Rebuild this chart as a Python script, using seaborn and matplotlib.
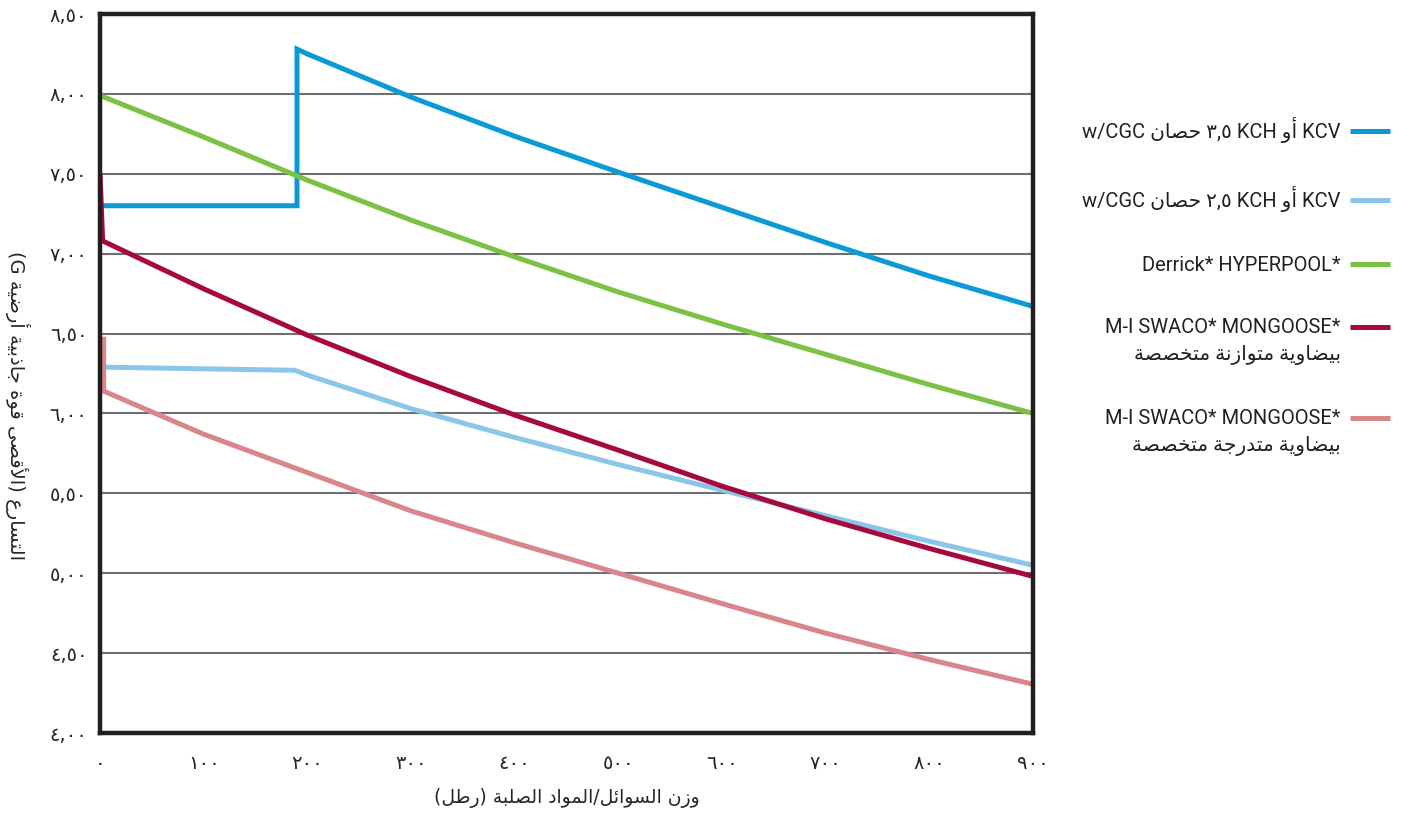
import re
import numpy as np
import pandas as pd
import matplotlib
matplotlib.use("Agg")
import matplotlib.pyplot as plt
import seaborn as sns

# ---------------- data ----------------
kcv35_x = [0, 190, 190, 200, 300, 400, 500, 600, 700, 800, 900]
kcv35_y = [7.30, 7.30, 8.28, 8.25, 7.98, 7.735, 7.51, 7.29, 7.07, 6.86, 6.67]

kcv25_x = [0, 188, 200, 300, 400, 500, 600, 700, 800, 900]
kcv25_y = [6.29, 6.27, 6.24, 6.03, 5.85, 5.68, 5.52, 5.36, 5.20, 5.05]

hyper_x = [0, 100, 200, 300, 400, 500, 600, 700, 800, 900]
hyper_y = [7.99, 7.73, 7.46, 7.21, 6.98, 6.76, 6.56, 6.37, 6.18, 6.00]

mong_bal_x = [0, 2.5, 100, 200, 300, 400, 500, 600, 700, 800, 900]
mong_bal_y = [7.50, 7.08, 6.78, 6.49, 6.23, 5.99, 5.77, 5.545, 5.34, 5.155, 4.98]

mong_prog_x = [3.5, 3.5, 100, 200, 300, 400, 500, 600, 700, 800, 900]
mong_prog_y = [6.48, 6.14, 5.87, 5.63, 5.39, 5.19, 5.00, 4.81, 4.625, 4.46, 4.305]

series_keys = ["kcv35", "kcv25", "hyper", "mong_bal", "mong_prog"]
# labels in logical (reading) order
series_labels = [
    "KCV أو KCH ٣,٥ حصان w/CGC",
    "KCV أو KCH ٢,٥ حصان w/CGC",
    "Derrick* HYPERPOOL*",
    "M-I SWACO* MONGOOSE*\nبيضاوية متوازنة متخصصة",
    "M-I SWACO* MONGOOSE*\nبيضاوية متدرجة متخصصة",
]
series_colors = ["#0b9ad6", "#8cc5ea", "#7bc143", "#a6093d", "#d8868a"]

x_ticks = [0, 100, 200, 300, 400, 500, 600, 700, 800, 900]
x_tick_labels = ["٠", "١٠٠", "٢٠٠", "٣٠٠", "٤٠٠", "٥٠٠", "٦٠٠", "٧٠٠", "٨٠٠", "٩٠٠"]
y_ticks = [4.0, 4.5, 5.0, 5.5, 6.0, 6.5, 7.0, 7.5, 8.0, 8.5]
y_tick_labels = ["٤,٠٠", "٤,٥٠", "٥,٠٠", "٥,٥٠", "٦,٠٠", "٦,٥٠", "٧,٠٠", "٧,٥٠", "٨,٠٠", "٨,٥٠"]

x_label = "وزن السوائل/المواد الصلبة (رطل)"
y_label = "التسارع (الأقصى قوة جاذبية أرضية G)"

# ------------- Arabic shaping + simple RTL ordering (matplotlib has no CTL) -------------
FORMS = {
    '\u0627': ('\uFE8D', '\uFE8E', None, None),
    '\u0623': ('\uFE83', '\uFE84', None, None),
    '\u0626': ('\uFE89', '\uFE8A', '\uFE8B', '\uFE8C'),
    '\u0628': ('\uFE8F', '\uFE90', '\uFE91', '\uFE92'),
    '\u0629': ('\uFE93', '\uFE94', None, None),
    '\u062A': ('\uFE95', '\uFE96', '\uFE97', '\uFE98'),
    '\u062C': ('\uFE9D', '\uFE9E', '\uFE9F', '\uFEA0'),
    '\u062D': ('\uFEA1', '\uFEA2', '\uFEA3', '\uFEA4'),
    '\u062E': ('\uFEA5', '\uFEA6', '\uFEA7', '\uFEA8'),
    '\u062F': ('\uFEA9', '\uFEAA', None, None),
    '\u0630': ('\uFEAB', '\uFEAC', None, None),
    '\u0631': ('\uFEAD', '\uFEAE', None, None),
    '\u0632': ('\uFEAF', '\uFEB0', None, None),
    '\u0633': ('\uFEB1', '\uFEB2', '\uFEB3', '\uFEB4'),
    '\u0635': ('\uFEB9', '\uFEBA', '\uFEBB', '\uFEBC'),
    '\u0636': ('\uFEBD', '\uFEBE', '\uFEBF', '\uFEC0'),
    '\u0637': ('\uFEC1', '\uFEC2', '\uFEC3', '\uFEC4'),
    '\u0639': ('\uFEC9', '\uFECA', '\uFECB', '\uFECC'),
    '\u0642': ('\uFED5', '\uFED6', '\uFED7', '\uFED8'),
    '\u0644': ('\uFEDD', '\uFEDE', '\uFEDF', '\uFEE0'),
    '\u0645': ('\uFEE1', '\uFEE2', '\uFEE3', '\uFEE4'),
    '\u0646': ('\uFEE5', '\uFEE6', '\uFEE7', '\uFEE8'),
    '\u0648': ('\uFEED', '\uFEEE', None, None),
    '\u0649': ('\uFEEF', '\uFEF0', None, None),
    '\u064A': ('\uFEF1', '\uFEF2', '\uFEF3', '\uFEF4'),
}
LAM_ALEF = {'\u0627': ('\uFEFB', '\uFEFC'), '\u0623': ('\uFEF7', '\uFEF8')}
AR = '[\u0621-\u064A]+'
MIRROR = {'(': ')', ')': '('}


def shape_word(w):
    out = []
    i, n = 0, len(w)
    prev_joins = False
    while i < n:
        c = w[i]
        f = FORMS.get(c)
        if f is None:
            out.append(c)
            prev_joins = False
            i += 1
            continue
        if c == '\u0644' and i + 1 < n and w[i + 1] in LAM_ALEF:
            iso, fin = LAM_ALEF[w[i + 1]]
            out.append(fin if prev_joins else iso)
            prev_joins = False
            i += 2
            continue
        next_joins = f[2] is not None and i + 1 < n and w[i + 1] in FORMS
        if prev_joins and next_joins:
            g = f[3]
        elif prev_joins:
            g = f[1]
        elif next_joins:
            g = f[2]
        else:
            g = f[0]
        out.append(g)
        prev_joins = f[2] is not None
        i += 1
    return ''.join(reversed(out))


def rtl_line(line):
    """Visual order of one line in a right-to-left paragraph (simplified bidi)."""
    if not re.search(AR, line):
        return line
    tokens = line.split(' ')[::-1]
    out = []
    for tok in tokens:
        if re.search(AR, tok) or '(' in tok or ')' in tok:
            pieces = re.findall(AR + '|[A-Za-z0-9]+|.', tok)[::-1]
            pieces = [MIRROR.get(p, p) for p in pieces]
            tok = ''.join(pieces)
        out.append(tok)
    vis = ' '.join(out)
    return re.sub(AR, lambda m: shape_word(m.group(0)), vis)


def rtl(text):
    return '\n'.join(rtl_line(l) for l in text.split('\n'))


# ---------------- figure ----------------
sns.set_theme(style="white")
plt.rcParams['font.family'] = ['DejaVu Sans']

frames = []
for key, xs, ys in zip(series_keys,
                       [kcv35_x, kcv25_x, hyper_x, mong_bal_x, mong_prog_x],
                       [kcv35_y, kcv25_y, hyper_y, mong_bal_y, mong_prog_y]):
    frames.append(pd.DataFrame({"x": xs, "y": ys, "series": key}))
df = pd.concat(frames, ignore_index=True)

fig = plt.figure(figsize=(14.05, 8.14), dpi=100)
ax = fig.add_axes([0.0712, 0.0995, 0.6640, 0.8833])

sns.lineplot(data=df, x="x", y="y", hue="series", hue_order=series_keys,
             palette=dict(zip(series_keys, series_colors)),
             estimator=None, sort=False, legend=False, linewidth=3.6, ax=ax)
for ln in ax.lines:
    ln.set_solid_joinstyle('miter')
    ln.set_solid_capstyle('butt')

ax.set_xlim(0, 900)
ax.set_ylim(4.0, 8.5)
ax.set_xticks(x_ticks)
ax.set_xticklabels(x_tick_labels, fontsize=14)
ax.set_yticks(y_ticks)
ax.set_yticklabels(y_tick_labels, fontsize=14)

ax.yaxis.grid(True, color="#6d6e71", linewidth=1.5)
ax.xaxis.grid(False)
ax.set_axisbelow(True)
ax.tick_params(axis='x', direction='in', length=12, width=1.2, color='#8a8a8a', pad=15)
ax.tick_params(axis='y', length=0, pad=9)
for sp in ax.spines.values():
    sp.set_visible(True)
    sp.set_color('#231f20')
    sp.set_linewidth(3.2)

ax.set_xlabel(rtl(x_label), fontsize=13.5, labelpad=11)
ax.set_ylabel(rtl(y_label), fontsize=14, rotation=270, va='center', ha='center')
ax.yaxis.set_label_coords(-0.088, 0.456)

handles = ax.lines[:5]
leg = ax.legend(handles, [rtl(s) for s in series_labels],
                loc='upper right', bbox_to_anchor=(1400 / 1405, 1 - 107 / 814),
                bbox_transform=fig.transFigure, frameon=False, markerfirst=False,
                handlelength=2.0, handletextpad=0.45, labelspacing=2.15, borderpad=0,
                prop={'family': ['Roboto', 'DejaVu Sans'], 'size': 14.5})
for t in leg.get_texts():
    t.set_multialignment('right')
    t.set_linespacing(1.55)
    t.set_color('#231f20')
# align the sample line of two-line entries with their first line
for h, lab in zip(leg.legend_handles, series_labels):
    if '\n' in lab:
        yd = np.asarray(h.get_ydata(), dtype=float)
        h.set_ydata(yd + 10.5)

fig.savefig("out.png", dpi=100)
